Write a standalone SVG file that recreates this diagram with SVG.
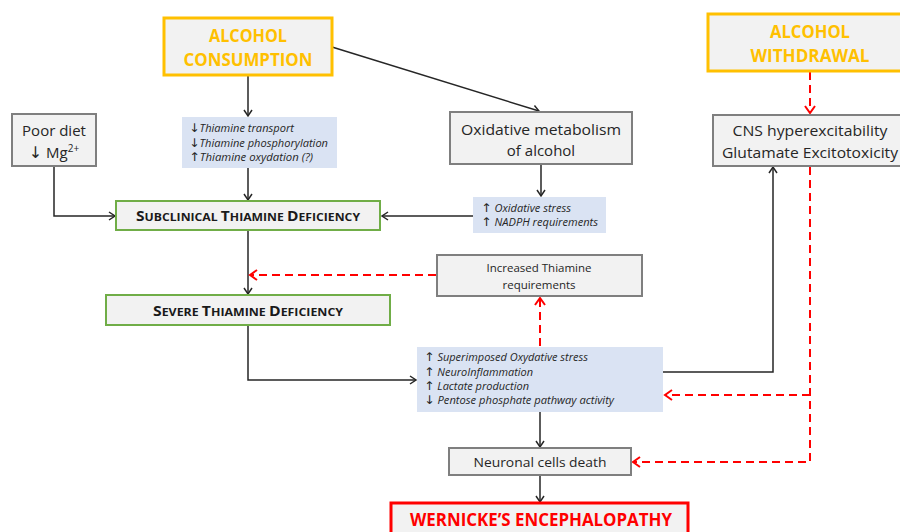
<svg xmlns="http://www.w3.org/2000/svg" width="900" height="532" viewBox="0 0 900 532">
<style>
.box{fill:#F2F2F2;stroke:#7F7F7F;stroke-width:2}
.orange{fill:#F2F2F2;stroke:#FFC000;stroke-width:3}
.green{fill:#F2F2F2;stroke:#70AD47;stroke-width:2}
.red{fill:#F2F2F2;stroke:#FF0000;stroke-width:3}
.blue{fill:#DAE3F3;stroke:none}
.t{font-family:"Open Sans","Liberation Sans",sans-serif;fill:#262626;text-anchor:middle}
.it{font-family:"Open Sans","Liberation Sans",sans-serif;fill:#262626;font-style:italic;font-size:10.5px}
.ar{font-family:"DejaVu Sans",sans-serif;font-style:normal;font-size:12px}
.big{font-family:"Open Sans","Liberation Sans",sans-serif;font-weight:bold;font-size:17px;text-anchor:middle}
.sc{font-family:"Open Sans","Liberation Sans",sans-serif;font-weight:bold;fill:#1a1a1a;text-anchor:middle;font-size:11px}
.ln{fill:none;stroke:#262626;stroke-width:1.5}
.dash{fill:none;stroke:#FF0000;stroke-width:2;stroke-dasharray:8,5}
</style>
<defs>
<marker id="ah" markerWidth="10" markerHeight="10" refX="8" refY="5" orient="auto" markerUnits="userSpaceOnUse">
<path d="M2,1 L8,5 L2,9" fill="none" stroke="#262626" stroke-width="1.5"/>
</marker>
<marker id="rh" markerWidth="12" markerHeight="12" refX="9" refY="6" orient="auto" markerUnits="userSpaceOnUse">
<path d="M2,1 L9,6 L2,11" fill="none" stroke="#FF0000" stroke-width="2"/>
</marker>
</defs>

<g id="connectors">
<line class="ln" x1="248" y1="76" x2="248" y2="116" marker-end="url(#ah)"/>
<line class="ln" x1="332" y1="47" x2="539" y2="111" marker-end="url(#ah)"/>
<line class="ln" x1="248" y1="168" x2="248" y2="200" marker-end="url(#ah)"/>
<polyline class="ln" points="54,166 54,216 115,216" marker-end="url(#ah)"/>
<line class="ln" x1="541" y1="165" x2="541" y2="196" marker-end="url(#ah)"/>
<line class="ln" x1="473" y1="216" x2="382" y2="216" marker-end="url(#ah)"/>
<line class="ln" x1="248" y1="231" x2="248" y2="294" marker-end="url(#ah)"/>
<polyline class="ln" points="248,326 248,380 416,380" marker-end="url(#ah)"/>
<polyline class="ln" points="663,372 773,372 773,167" marker-end="url(#ah)"/>
<line class="ln" x1="540" y1="412" x2="540" y2="447" marker-end="url(#ah)"/>
<line class="ln" x1="540" y1="476" x2="540" y2="502" marker-end="url(#ah)"/>
<line class="dash" x1="810" y1="72" x2="810" y2="113" marker-end="url(#rh)"/>
<line class="dash" x1="436" y1="275" x2="250" y2="275" marker-end="url(#rh)"/>
<line class="dash" x1="540" y1="346" x2="540" y2="298" marker-end="url(#rh)"/>
<polyline class="dash" points="810,167 810,462 633,462" marker-end="url(#rh)"/>
<line class="dash" x1="810" y1="395" x2="665" y2="395" marker-end="url(#rh)"/>
</g>

<g id="alcohol-consumption">
<rect class="orange" x="164" y="18" width="168" height="57"/>
<text class="big" fill="#FFC000" x="248" y="42" textLength="78" lengthAdjust="spacingAndGlyphs">ALCOHOL</text>
<text class="big" fill="#FFC000" x="248" y="66" textLength="129" lengthAdjust="spacingAndGlyphs">CONSUMPTION</text>
</g>

<g id="alcohol-withdrawal">
<rect class="orange" x="708" y="14" width="200" height="57"/>
<text class="big" fill="#FFC000" x="810" y="38" textLength="80" lengthAdjust="spacingAndGlyphs">ALCOHOL</text>
<text class="big" fill="#FFC000" x="810" y="62" textLength="119" lengthAdjust="spacingAndGlyphs">WITHDRAWAL</text>
</g>

<g id="poor-diet">
<rect class="box" x="12" y="114" width="84" height="52"/>
<text class="t" font-size="15" x="54" y="136">Poor diet</text>
<text class="t" font-size="15" x="54" y="158"><tspan font-family="DejaVu Sans" font-size="16">↓</tspan> Mg<tspan font-size="10" dy="-6">2+</tspan></text>
</g>

<g id="alcohol-effects">
<rect class="blue" x="182" y="117" width="155" height="51"/>
<text class="it" x="189" y="132" textLength="105" lengthAdjust="spacingAndGlyphs"><tspan class="ar">↓</tspan>Thiamine transport</text>
<text class="it" x="189" y="147" textLength="139" lengthAdjust="spacingAndGlyphs"><tspan class="ar">↓</tspan>Thiamine phosphorylation</text>
<text class="it" x="189" y="161" textLength="124" lengthAdjust="spacingAndGlyphs"><tspan class="ar">↑</tspan>Thiamine oxydation (?)</text>
</g>

<g id="oxidative-metabolism">
<rect class="box" x="450" y="112" width="182" height="52"/>
<text class="t" font-size="15" x="541" y="135" textLength="160" lengthAdjust="spacingAndGlyphs">Oxidative metabolism</text>
<text class="t" font-size="15" x="541" y="156">of alcohol</text>
</g>

<g id="cns">
<rect class="box" x="713" y="115" width="195" height="51"/>
<text class="t" font-size="15" x="810" y="136" textLength="155" lengthAdjust="spacingAndGlyphs">CNS hyperexcitability</text>
<text class="t" font-size="15" x="810" y="158" textLength="176" lengthAdjust="spacingAndGlyphs">Glutamate Excitotoxicity</text>
</g>

<g id="oxidative-effects">
<rect class="blue" x="473" y="197" width="133" height="36"/>
<text class="it" x="481" y="212" textLength="90" lengthAdjust="spacingAndGlyphs"><tspan class="ar">↑</tspan> Oxidative stress</text>
<text class="it" x="481" y="226" textLength="117" lengthAdjust="spacingAndGlyphs"><tspan class="ar">↑</tspan> NADPH requirements</text>
</g>

<g id="subclinical">
<rect class="green" x="116" y="201" width="264" height="29"/>
<text class="sc" x="248" y="221" textLength="224" lengthAdjust="spacingAndGlyphs"><tspan font-size="14">S</tspan>UBCLINICAL <tspan font-size="14">T</tspan>HIAMINE <tspan font-size="14">D</tspan>EFICIENCY</text>
</g>

<g id="increased-thiamine">
<rect class="box" x="437" y="255" width="205" height="41"/>
<text class="t" font-size="11.5" x="539" y="272">Increased Thiamine</text>
<text class="t" font-size="11.5" x="539" y="289">requirements</text>
</g>

<g id="severe">
<rect class="green" x="106" y="295" width="284" height="30"/>
<text class="sc" x="248" y="316" textLength="190" lengthAdjust="spacingAndGlyphs"><tspan font-size="14">S</tspan>EVERE <tspan font-size="14">T</tspan>HIAMINE <tspan font-size="14">D</tspan>EFICIENCY</text>
</g>

<g id="brain-effects">
<rect class="blue" x="417" y="347" width="246" height="65"/>
<text class="it" x="424" y="361" textLength="164" lengthAdjust="spacingAndGlyphs"><tspan class="ar">↑</tspan> Superimposed Oxydative stress</text>
<text class="it" x="424" y="376" textLength="109" lengthAdjust="spacingAndGlyphs"><tspan class="ar">↑</tspan> NeuroInflammation</text>
<text class="it" x="424" y="390" textLength="105" lengthAdjust="spacingAndGlyphs"><tspan class="ar">↑</tspan> Lactate production</text>
<text class="it" x="424" y="404" textLength="190" lengthAdjust="spacingAndGlyphs"><tspan class="ar">↓</tspan> Pentose phosphate pathway activity</text>
</g>

<g id="neuronal-death">
<rect class="box" x="449" y="448" width="182" height="27"/>
<text class="t" font-size="13.5" x="540" y="467" textLength="133" lengthAdjust="spacingAndGlyphs">Neuronal cells death</text>
</g>

<g id="wernicke">
<rect class="red" x="391" y="503" width="297" height="40"/>
<text class="big" fill="#FF0000" x="541" y="526" textLength="262" lengthAdjust="spacingAndGlyphs">WERNICKE’S ENCEPHALOPATHY</text>
</g>
</svg>
